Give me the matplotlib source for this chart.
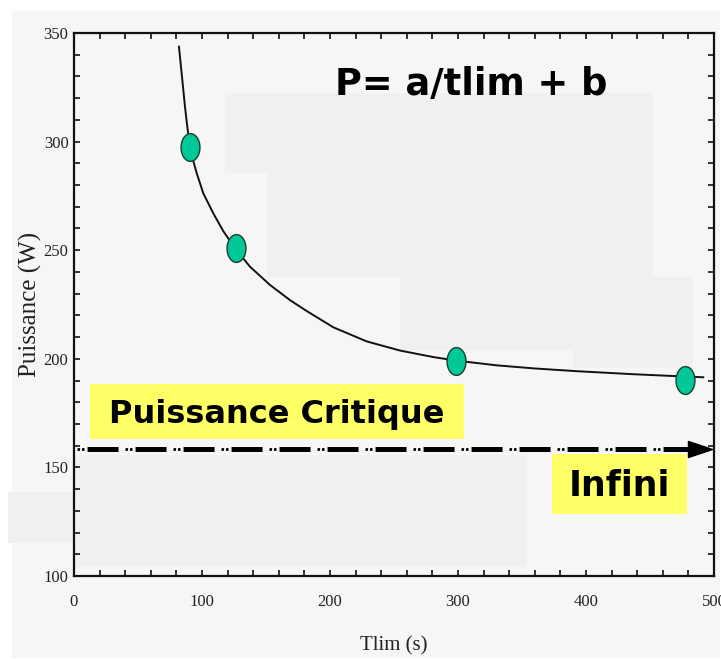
import numpy as np
import matplotlib
matplotlib.use("Agg")
import matplotlib.pyplot as plt
from matplotlib.path import Path
from matplotlib.patches import Rectangle

# courbe (tlim en s, puissance en W)
curve_t = [82.0, 84.1, 86.7, 88.5, 90.6, 93.0, 95.9, 101.0, 108.8, 116.6,
           126.3, 137.5, 153.1, 168.8, 181.8, 202.6, 228.7, 254.7, 280.7,
           298.2, 330.0, 358.8, 392.7, 437.0, 470.9, 491.6]
curve_p = [343.7, 331.4, 316.1, 306.9, 297.7, 291.5, 285.4, 276.2, 267.0, 258.8,
           250.5, 242.4, 234.0, 227.0, 222.0, 214.5, 208.0, 203.8, 200.8,
           199.2, 197.0, 195.6, 194.3, 192.9, 192.0, 191.5]

# essais mesurés
tlim_pts = [90.6, 126.6, 298.2, 477.3]
power_pts = [297.4, 251.2, 199.0, 190.2]

# puissance critique (asymptote)
pc_value = 158.5
pc_t_end = 481
pc_arrow_t = 489

W, H = 721, 659
plt.rcParams["lines.scale_dashes"] = False
fig = plt.figure(figsize=(W / 100, H / 100), dpi=100)
fig.patch.set_facecolor("white")


def fig_rect(x0, y0, x1, y1, color, z=0):
    # rectangle en pixels (origine en haut à gauche)
    r = Rectangle((x0 / W, 1 - y1 / H), (x1 - x0) / W, (y1 - y0) / H,
                  transform=fig.transFigure, facecolor=color, edgecolor="none",
                  zorder=z)
    fig.patches.append(r)


fig_rect(12, 11, 720, 658, "#f6f6f6", z=-10)
fig_rect(8, 492, 74, 543, "#f0f0f0", z=-9)

ax = fig.add_axes([74 / W, 1 - 576 / H, 640 / W, 543 / H])
ax.set_facecolor("none")

# zones un peu plus sombres du fond
for x0, y0, x1, y1 in [(225, 93, 653, 173), (267, 173, 653, 277),
                       (400, 277, 693, 350), (573, 350, 693, 368),
                       (75, 455, 527, 567)]:
    fig_rect(x0, y0, x1, y1, "#f0f0f0", z=-8)

ax.set_xlim(0, 500)
ax.set_ylim(100, 350)

ax.plot(curve_t, curve_p, color="#111111", lw=1.4, zorder=3,
        solid_joinstyle="round")

theta = np.linspace(0, 2 * np.pi, 80)
ellipse = Path(np.column_stack([0.68 * np.cos(theta), np.sin(theta)]), closed=True)
ax.plot(tlim_pts, power_pts, linestyle="none", marker=ellipse, markersize=20,
        markerfacecolor="#00c896", markeredgecolor="#1c3d33",
        markeredgewidth=1.0, zorder=4)

# ligne de puissance critique : tirets épais + points fins
ax.plot([0, pc_t_end], [pc_value, pc_value], color="black", lw=3.6,
        linestyle=(25.16, (22.3, 12.26)), dash_capstyle="butt",
        zorder=3, clip_on=False)
ax.plot([0, pc_t_end], [pc_value, pc_value], color="black", lw=2.0,
        linestyle=(32.36, (1.8, 1.4, 1.8, 29.56)), dash_capstyle="butt",
        zorder=3, clip_on=False)
arrow = Path([(-1, -0.667), (1, 0), (-1, 0.667), (-1, -0.667)], closed=True)
ax.plot([pc_arrow_t], [pc_value], linestyle="none", marker=arrow,
        markersize=17.3, color="black", zorder=3, clip_on=False)

# textes sur fond jaune
yellow = "#ffff66"
ax.add_patch(Rectangle((0.025, 0.252), 0.584, 0.102, transform=ax.transAxes,
                       facecolor=yellow, edgecolor="none", zorder=2))
ax.text(0.317, 0.282, "Puissance Critique", transform=ax.transAxes,
        ha="center", va="baseline", fontsize=23, fontweight="bold",
        family="DejaVu Sans", color="black", zorder=5)
ax.add_patch(Rectangle((0.747, 0.114), 0.211, 0.111, transform=ax.transAxes,
                       facecolor=yellow, edgecolor="none", zorder=2))
ax.text(0.852, 0.147, "Infini", transform=ax.transAxes,
        ha="center", va="baseline", fontsize=25, fontweight="bold",
        family="DejaVu Sans", color="black", zorder=5)
ax.text(0.620, 0.886, "P= a/tlim + b", transform=ax.transAxes,
        ha="center", va="baseline", fontsize=26.5, fontweight="bold",
        family="DejaVu Sans", color="black", zorder=5)

# axes
for s in ax.spines.values():
    s.set_linewidth(1.6)
    s.set_color("#111111")
ax.set_xticks(np.arange(0, 501, 100))
ax.set_xticks(np.arange(0, 501, 20), minor=True)
ax.set_yticks(np.arange(100, 351, 50))
ax.set_yticks(np.arange(100, 351, 10), minor=True)
ax.tick_params(which="both", direction="in", top=True, right=True,
               length=4, width=1.2, color="#111111")
ax.tick_params(axis="x", which="major", pad=13)
ax.tick_params(axis="y", which="major", pad=4)
for lab in ax.get_xticklabels() + ax.get_yticklabels():
    lab.set_family("Liberation Serif")
    lab.set_fontsize(12)
    lab.set_color("#222222")

ax.set_xlabel("Tlim (s)", family="Liberation Serif", fontsize=15,
              color="#222222", labelpad=19)
ax.set_ylabel("Puissance (W)", family="Liberation Serif", fontsize=18,
              color="#222222", labelpad=1)

fig.savefig("out.png", dpi=100)
